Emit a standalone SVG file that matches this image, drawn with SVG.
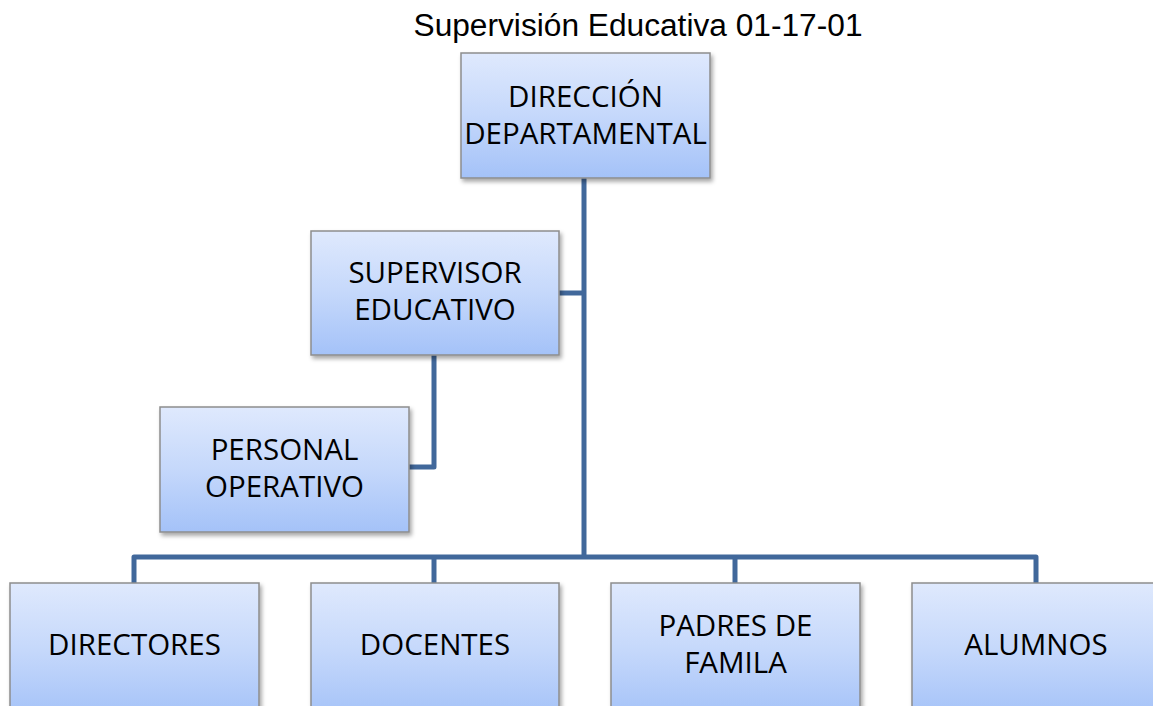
<svg xmlns="http://www.w3.org/2000/svg" width="1153" height="706" viewBox="0 0 1153 706">
<style>
.box{fill:url(#g);stroke:#8d8d8d;stroke-width:1.5;filter:url(#sh)}
.lbl{font-family:"Open Sans","Noto Sans",sans-serif;font-size:29.5px;fill:#000;text-anchor:middle}
.con{fill:none;stroke:#41689b;stroke-width:5;stroke-linejoin:round}
.title{font-family:"Liberation Sans",Arial,sans-serif;font-size:31px;fill:#000;text-anchor:middle}
</style>
<defs>
<linearGradient id="g" x1="0" y1="0" x2="0" y2="1">
<stop offset="0" stop-color="#dfe9fd"/>
<stop offset="0.5" stop-color="#c5d8fb"/>
<stop offset="1" stop-color="#a4c2f8"/>
</linearGradient>
<filter id="sh" x="-10%" y="-10%" width="130%" height="130%">
<feDropShadow dx="2" dy="3" stdDeviation="2" flood-color="#000" flood-opacity="0.35"/>
</filter>
</defs>
<rect width="1153" height="706" fill="#fff"/>
<text class="title" x="638" y="36" textLength="449" lengthAdjust="spacingAndGlyphs">Supervisión Educativa 01-17-01</text>
<g id="connectors">
<path class="con" d="M584,178 V555"/>
<path class="con" d="M558,293 H584"/>
<path class="con" d="M434,355 V467 H409"/>
<path class="con" d="M134,583 V557 H1036 V583"/>
<path class="con" d="M434,557 V583"/>
<path class="con" d="M735,557 V583"/>
</g>
<g id="n-direccion">
<rect class="box" x="461" y="53" width="249" height="125"/>
<text class="lbl" x="585.5" y="107">DIRECCIÓN</text>
<text class="lbl" x="585.5" y="144">DEPARTAMENTAL</text>
</g>
<g id="n-supervisor">
<rect class="box" x="311" y="231" width="248" height="124"/>
<text class="lbl" x="435" y="283">SUPERVISOR</text>
<text class="lbl" x="435" y="320">EDUCATIVO</text>
</g>
<g id="n-personal">
<rect class="box" x="160" y="407" width="249" height="125"/>
<text class="lbl" x="284.5" y="460">PERSONAL</text>
<text class="lbl" x="284.5" y="497">OPERATIVO</text>
</g>
<g id="n-directores">
<rect class="box" x="10" y="583" width="249" height="135"/>
<text class="lbl" x="134.5" y="655">DIRECTORES</text>
</g>
<g id="n-docentes">
<rect class="box" x="311" y="583" width="248" height="135"/>
<text class="lbl" x="435" y="655">DOCENTES</text>
</g>
<g id="n-padres">
<rect class="box" x="611" y="583" width="249" height="135"/>
<text class="lbl" x="735.5" y="636">PADRES DE</text>
<text class="lbl" x="735.5" y="673">FAMILA</text>
</g>
<g id="n-alumnos">
<rect class="box" x="912" y="583" width="249" height="135"/>
<text class="lbl" x="1036" y="655">ALUMNOS</text>
</g>
</svg>
